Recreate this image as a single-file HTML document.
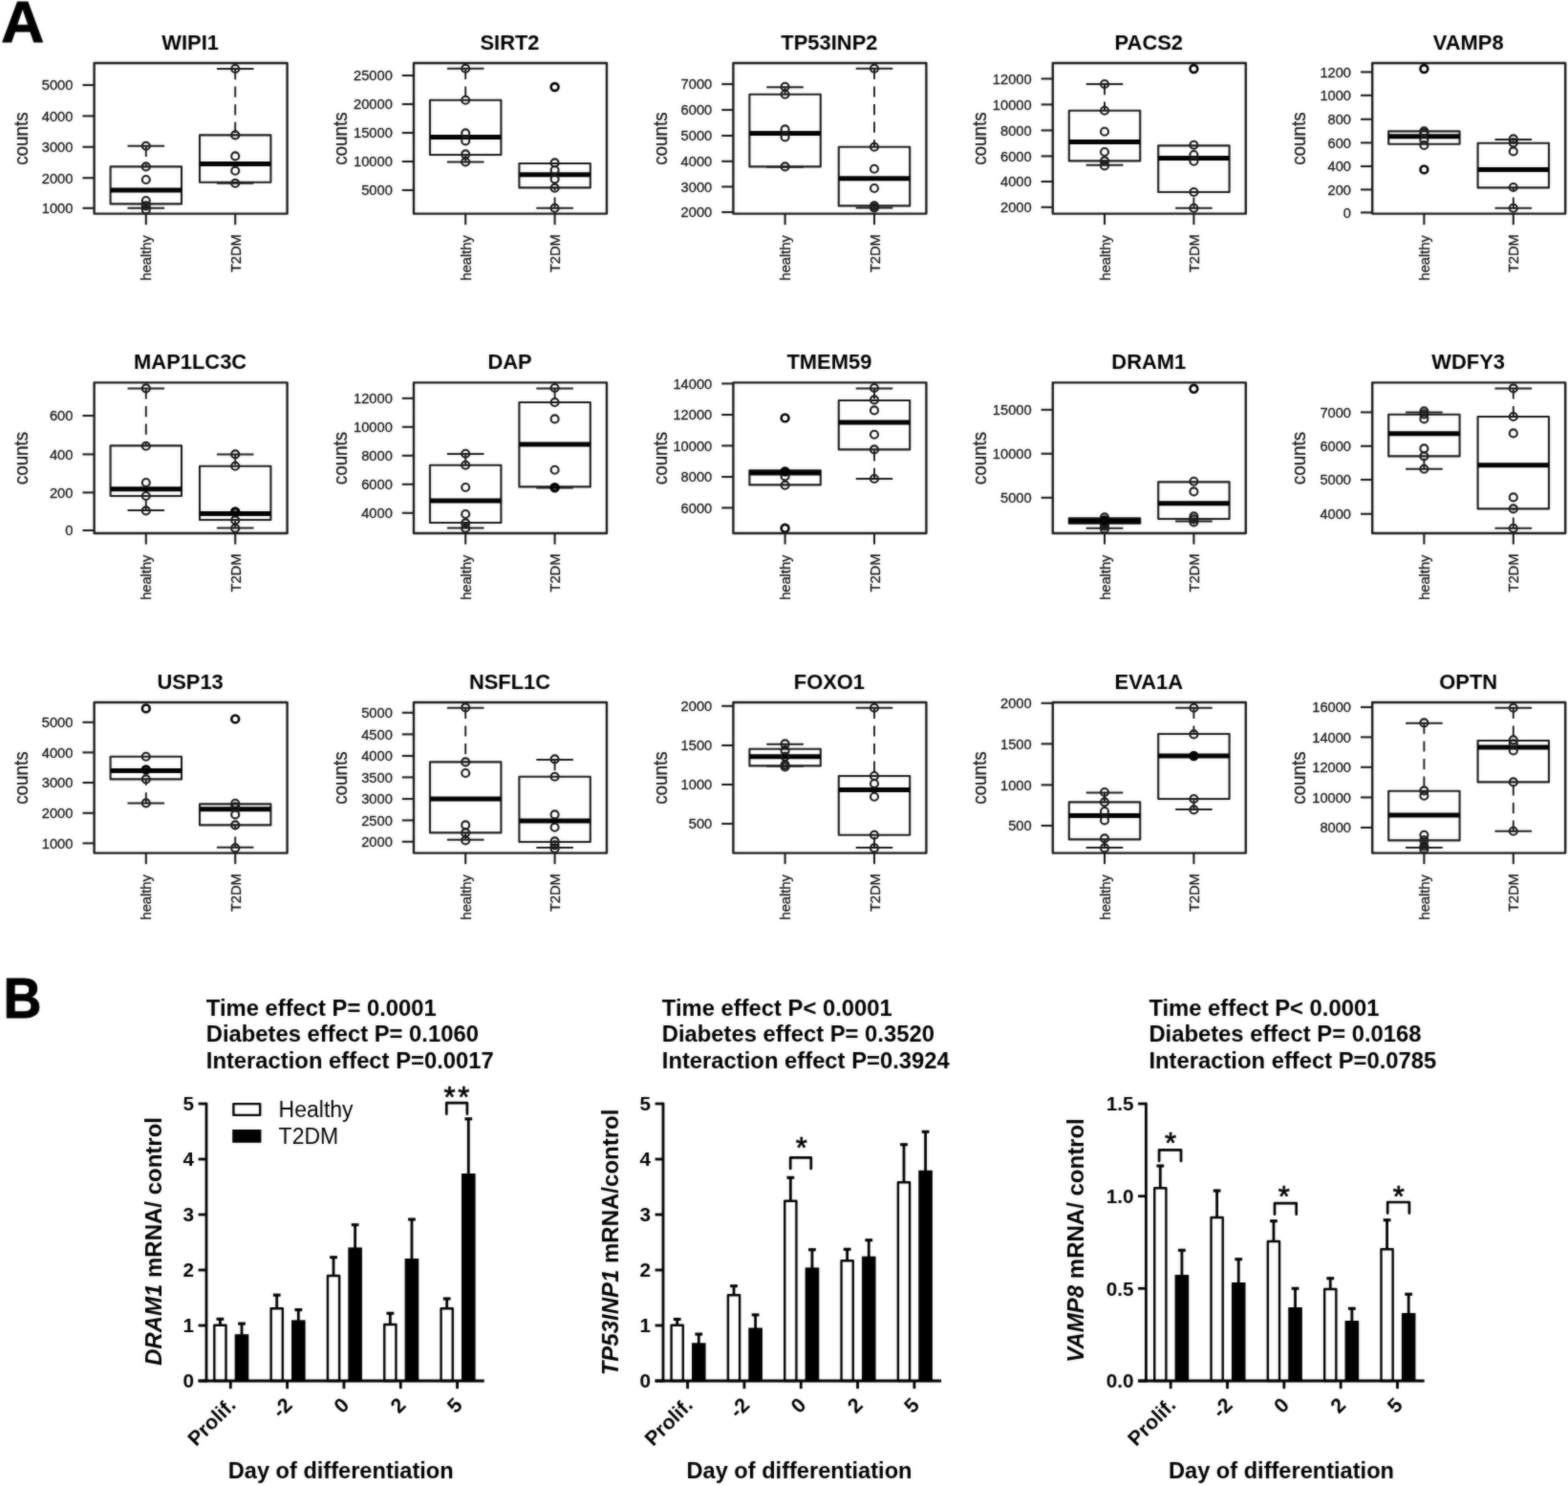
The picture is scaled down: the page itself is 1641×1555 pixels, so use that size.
<!DOCTYPE html>
<html lang="en">
<head>
<meta charset="utf-8">
<title>Figure: autophagy gene counts and mRNA expression</title>
<style>
html,body{margin:0;padding:0;background:#fff;}
body{width:1641px;height:1555px;overflow:hidden;}
svg{display:block;font-family:"Liberation Sans", Arial, Helvetica, sans-serif;fill:#000;}
.fr{fill:none;stroke:#1a1a1a;stroke-width:2.4;stroke-linejoin:round;}
.ax{stroke:#1a1a1a;stroke-width:2.1;}
.tk{fill:#151515;stroke:#151515;stroke-width:0.3;}
.lb{fill:#151515;stroke:#151515;stroke-width:0.3;}
.bx{fill:none;stroke:#1a1a1a;stroke-width:2.1;stroke-linejoin:round;}
.md{stroke:#000;stroke-width:5;}
.wh{stroke:#1a1a1a;stroke-width:1.9;stroke-dasharray:11.2 7.4;}
.st{stroke:#1a1a1a;stroke-width:2;}
.pt{fill:none;stroke:#1a1a1a;stroke-width:2.1;}
.ot{fill:none;stroke:#000;stroke-width:2.6;}
.dk{fill:#000;fill-opacity:0.5;stroke:#000;stroke-width:3;}
.ba{stroke:#000;stroke-width:2.8;}
.er{stroke:#000;stroke-width:2.8;}
.ec{stroke:#000;stroke-width:3.1;}
.bw{fill:#fff;stroke:#000;stroke-width:2.4;stroke-linejoin:round;}
.bb{fill:#000;stroke:none;}
.big{stroke:#000;stroke-width:1;stroke-linejoin:round;}
.star{stroke:#000;stroke-width:0.7;}
.sg{fill:none;stroke:#000;stroke-width:2.7;stroke-linecap:round;stroke-linejoin:round;}
</style>
</head>
<body>
<svg width="1641" height="1555" viewBox="0 0 1641 1555" role="img" aria-label="Box plots of autophagy gene counts (A) and bar charts of mRNA expression (B)">
<defs><filter id="soft" x="0" y="0" width="1641" height="1555" filterUnits="userSpaceOnUse" color-interpolation-filters="sRGB"><feGaussianBlur in="SourceGraphic" stdDeviation="0.8" result="b"/><feComposite in="SourceGraphic" in2="b" operator="arithmetic" k1="0" k2="0.5" k3="0.5" k4="0"/></filter></defs>
<g filter="url(#soft)">
<rect width="1641" height="1555" fill="#fff"/>
<text transform="translate(1.3 43.7) scale(1.03 1)" font-size="60.4" font-weight="bold" class="big">A</text>
<text transform="translate(3.6 1065.0) scale(0.942 1)" font-size="58.7" font-weight="bold" class="big">B</text>
<g>
<text transform="translate(199.1 52) scale(0.97 1)" font-size="22.6" font-weight="bold" text-anchor="middle">WIPI1</text>
<text transform="translate(28.7 145.1) rotate(-90) scale(0.975 1)" font-size="19.3" text-anchor="middle" class="lb">counts</text>
<line x1="86.4" y1="89" x2="98.6" y2="89" class="ax"/>
<text transform="translate(76.4 94.35) scale(0.965 1)" font-size="15.2" text-anchor="end" class="tk">5000</text>
<line x1="86.4" y1="121.4" x2="98.6" y2="121.4" class="ax"/>
<text transform="translate(76.4 126.75) scale(0.965 1)" font-size="15.2" text-anchor="end" class="tk">4000</text>
<line x1="86.4" y1="153.8" x2="98.6" y2="153.8" class="ax"/>
<text transform="translate(76.4 159.15) scale(0.965 1)" font-size="15.2" text-anchor="end" class="tk">3000</text>
<line x1="86.4" y1="186.2" x2="98.6" y2="186.2" class="ax"/>
<text transform="translate(76.4 191.55) scale(0.965 1)" font-size="15.2" text-anchor="end" class="tk">2000</text>
<line x1="86.4" y1="217.8" x2="98.6" y2="217.8" class="ax"/>
<text transform="translate(76.4 223.15) scale(0.965 1)" font-size="15.2" text-anchor="end" class="tk">1000</text>
<line x1="152.8" y1="223.6" x2="152.8" y2="235.2" class="ax"/>
<text transform="translate(158.3 246.2) rotate(-90) scale(0.965 1)" font-size="15.2" text-anchor="end" class="tk">healthy</text>
<line x1="246.2" y1="223.6" x2="246.2" y2="235.2" class="ax"/>
<text transform="translate(251.7 245.2) rotate(-90) scale(0.965 1)" font-size="15.2" text-anchor="end" class="tk">T2DM</text>
<line x1="152.8" y1="152.8" x2="152.8" y2="174.4" class="wh"/>
<line x1="133.5" y1="152.8" x2="172.1" y2="152.8" class="st"/>
<line x1="152.8" y1="217.8" x2="152.8" y2="213.4" class="wh"/>
<line x1="133.5" y1="217.8" x2="172.1" y2="217.8" class="st"/>
<rect x="115.6" y="174.4" width="74.4" height="39" class="bx"/>
<line x1="115.6" y1="199" x2="190" y2="199" class="md"/>
<circle cx="152.8" cy="152.8" r="4" class="pt"/>
<circle cx="152.8" cy="174.4" r="4" class="pt"/>
<circle cx="152.8" cy="188" r="4" class="pt"/>
<circle cx="152.8" cy="210" r="4" class="pt"/>
<circle cx="152.8" cy="215.4" r="4" class="pt"/>
<circle cx="152.8" cy="219.4" r="4" class="pt"/>
<line x1="246.2" y1="72" x2="246.2" y2="141.4" class="wh"/>
<line x1="226.9" y1="72" x2="265.5" y2="72" class="st"/>
<line x1="226.9" y1="191.8" x2="265.5" y2="191.8" class="st"/>
<rect x="209" y="141.4" width="74.4" height="49.4" class="bx"/>
<line x1="209" y1="171.4" x2="283.4" y2="171.4" class="md"/>
<circle cx="246.2" cy="72" r="4" class="pt"/>
<circle cx="246.2" cy="141.4" r="4" class="pt"/>
<circle cx="246.2" cy="163.4" r="4" class="pt"/>
<circle cx="246.2" cy="178.8" r="4" class="pt"/>
<circle cx="246.2" cy="191.8" r="4" class="pt"/>
<rect x="98.6" y="66" width="202" height="157.6" class="fr"/>
</g>
<g>
<text transform="translate(533.5 52) scale(0.97 1)" font-size="22.6" font-weight="bold" text-anchor="middle">SIRT2</text>
<text transform="translate(363.1 145.1) rotate(-90) scale(0.975 1)" font-size="19.3" text-anchor="middle" class="lb">counts</text>
<line x1="420.8" y1="79" x2="433" y2="79" class="ax"/>
<text transform="translate(410.8 84.35) scale(0.965 1)" font-size="15.2" text-anchor="end" class="tk">25000</text>
<line x1="420.8" y1="109" x2="433" y2="109" class="ax"/>
<text transform="translate(410.8 114.35) scale(0.965 1)" font-size="15.2" text-anchor="end" class="tk">20000</text>
<line x1="420.8" y1="139" x2="433" y2="139" class="ax"/>
<text transform="translate(410.8 144.35) scale(0.965 1)" font-size="15.2" text-anchor="end" class="tk">15000</text>
<line x1="420.8" y1="169" x2="433" y2="169" class="ax"/>
<text transform="translate(410.8 174.35) scale(0.965 1)" font-size="15.2" text-anchor="end" class="tk">10000</text>
<line x1="420.8" y1="199" x2="433" y2="199" class="ax"/>
<text transform="translate(410.8 204.35) scale(0.965 1)" font-size="15.2" text-anchor="end" class="tk">5000</text>
<line x1="487.2" y1="223.6" x2="487.2" y2="235.2" class="ax"/>
<text transform="translate(492.7 246.2) rotate(-90) scale(0.965 1)" font-size="15.2" text-anchor="end" class="tk">healthy</text>
<line x1="580.6" y1="223.6" x2="580.6" y2="235.2" class="ax"/>
<text transform="translate(586.1 245.2) rotate(-90) scale(0.965 1)" font-size="15.2" text-anchor="end" class="tk">T2DM</text>
<line x1="487.2" y1="71.8" x2="487.2" y2="104.8" class="wh"/>
<line x1="467.9" y1="71.8" x2="506.5" y2="71.8" class="st"/>
<line x1="487.2" y1="169.4" x2="487.2" y2="162" class="wh"/>
<line x1="467.9" y1="169.4" x2="506.5" y2="169.4" class="st"/>
<rect x="450" y="104.8" width="74.4" height="57.2" class="bx"/>
<line x1="450" y1="143.4" x2="524.4" y2="143.4" class="md"/>
<circle cx="487.2" cy="71.8" r="4" class="pt"/>
<circle cx="487.2" cy="104.8" r="4" class="pt"/>
<circle cx="487.2" cy="139.4" r="4" class="pt"/>
<circle cx="487.2" cy="147.4" r="4" class="pt"/>
<circle cx="487.2" cy="161.4" r="4" class="pt"/>
<circle cx="487.2" cy="169.4" r="4" class="pt"/>
<line x1="580.6" y1="217.8" x2="580.6" y2="196.4" class="wh"/>
<line x1="561.3" y1="217.8" x2="599.9" y2="217.8" class="st"/>
<rect x="543.4" y="171" width="74.4" height="25.4" class="bx"/>
<line x1="543.4" y1="182.8" x2="617.8" y2="182.8" class="md"/>
<circle cx="580.6" cy="170.4" r="4" class="pt"/>
<circle cx="580.6" cy="178" r="4" class="pt"/>
<circle cx="580.6" cy="187.4" r="4" class="pt"/>
<circle cx="580.6" cy="196.8" r="4" class="pt"/>
<circle cx="580.6" cy="217.8" r="4" class="pt"/>
<circle cx="580.6" cy="91" r="3.9" class="ot"/>
<rect x="433" y="66" width="202" height="157.6" class="fr"/>
</g>
<g>
<text transform="translate(867.9 52) scale(0.97 1)" font-size="22.6" font-weight="bold" text-anchor="middle">TP53INP2</text>
<text transform="translate(697.5 145.1) rotate(-90) scale(0.975 1)" font-size="19.3" text-anchor="middle" class="lb">counts</text>
<line x1="755.2" y1="88" x2="767.4" y2="88" class="ax"/>
<text transform="translate(745.2 93.35) scale(0.965 1)" font-size="15.2" text-anchor="end" class="tk">7000</text>
<line x1="755.2" y1="115" x2="767.4" y2="115" class="ax"/>
<text transform="translate(745.2 120.35) scale(0.965 1)" font-size="15.2" text-anchor="end" class="tk">6000</text>
<line x1="755.2" y1="142" x2="767.4" y2="142" class="ax"/>
<text transform="translate(745.2 147.35) scale(0.965 1)" font-size="15.2" text-anchor="end" class="tk">5000</text>
<line x1="755.2" y1="168.8" x2="767.4" y2="168.8" class="ax"/>
<text transform="translate(745.2 174.15) scale(0.965 1)" font-size="15.2" text-anchor="end" class="tk">4000</text>
<line x1="755.2" y1="195.4" x2="767.4" y2="195.4" class="ax"/>
<text transform="translate(745.2 200.75) scale(0.965 1)" font-size="15.2" text-anchor="end" class="tk">3000</text>
<line x1="755.2" y1="222" x2="767.4" y2="222" class="ax"/>
<text transform="translate(745.2 227.35) scale(0.965 1)" font-size="15.2" text-anchor="end" class="tk">2000</text>
<line x1="821.6" y1="223.6" x2="821.6" y2="235.2" class="ax"/>
<text transform="translate(827.1 246.2) rotate(-90) scale(0.965 1)" font-size="15.2" text-anchor="end" class="tk">healthy</text>
<line x1="915" y1="223.6" x2="915" y2="235.2" class="ax"/>
<text transform="translate(920.5 245.2) rotate(-90) scale(0.965 1)" font-size="15.2" text-anchor="end" class="tk">T2DM</text>
<line x1="821.6" y1="91.2" x2="821.6" y2="98.8" class="wh"/>
<line x1="802.3" y1="91.2" x2="840.9" y2="91.2" class="st"/>
<line x1="802.3" y1="174.8" x2="840.9" y2="174.8" class="st"/>
<rect x="784.4" y="98.8" width="74.4" height="75.6" class="bx"/>
<line x1="784.4" y1="139.4" x2="858.8" y2="139.4" class="md"/>
<circle cx="821.6" cy="90.8" r="4" class="pt"/>
<circle cx="821.6" cy="98.8" r="4" class="pt"/>
<circle cx="821.6" cy="135.4" r="4" class="pt"/>
<circle cx="821.6" cy="143.4" r="4" class="pt"/>
<circle cx="821.6" cy="174.4" r="4" class="pt"/>
<line x1="915" y1="71.8" x2="915" y2="153.8" class="wh"/>
<line x1="895.7" y1="71.8" x2="934.3" y2="71.8" class="st"/>
<line x1="915" y1="217.4" x2="915" y2="215.4" class="wh"/>
<line x1="895.7" y1="217.4" x2="934.3" y2="217.4" class="st"/>
<rect x="877.8" y="153.8" width="74.4" height="61.6" class="bx"/>
<line x1="877.8" y1="186.8" x2="952.2" y2="186.8" class="md"/>
<circle cx="915" cy="71.8" r="4" class="pt"/>
<circle cx="915" cy="153.8" r="4" class="pt"/>
<circle cx="915" cy="176.8" r="4" class="pt"/>
<circle cx="915" cy="197" r="4" class="pt"/>
<circle cx="915" cy="215.4" r="4" class="pt"/>
<circle cx="915" cy="217.4" r="4" class="pt"/>
<rect x="767.4" y="66" width="202" height="157.6" class="fr"/>
</g>
<g>
<text transform="translate(1202.3 52) scale(0.97 1)" font-size="22.6" font-weight="bold" text-anchor="middle">PACS2</text>
<text transform="translate(1031.9 145.1) rotate(-90) scale(0.975 1)" font-size="19.3" text-anchor="middle" class="lb">counts</text>
<line x1="1089.6" y1="82.4" x2="1101.8" y2="82.4" class="ax"/>
<text transform="translate(1079.6 87.75) scale(0.965 1)" font-size="15.2" text-anchor="end" class="tk">12000</text>
<line x1="1089.6" y1="109.4" x2="1101.8" y2="109.4" class="ax"/>
<text transform="translate(1079.6 114.75) scale(0.965 1)" font-size="15.2" text-anchor="end" class="tk">10000</text>
<line x1="1089.6" y1="136.4" x2="1101.8" y2="136.4" class="ax"/>
<text transform="translate(1079.6 141.75) scale(0.965 1)" font-size="15.2" text-anchor="end" class="tk">8000</text>
<line x1="1089.6" y1="163.4" x2="1101.8" y2="163.4" class="ax"/>
<text transform="translate(1079.6 168.75) scale(0.965 1)" font-size="15.2" text-anchor="end" class="tk">6000</text>
<line x1="1089.6" y1="190" x2="1101.8" y2="190" class="ax"/>
<text transform="translate(1079.6 195.35) scale(0.965 1)" font-size="15.2" text-anchor="end" class="tk">4000</text>
<line x1="1089.6" y1="216.8" x2="1101.8" y2="216.8" class="ax"/>
<text transform="translate(1079.6 222.15) scale(0.965 1)" font-size="15.2" text-anchor="end" class="tk">2000</text>
<line x1="1156" y1="223.6" x2="1156" y2="235.2" class="ax"/>
<text transform="translate(1161.5 246.2) rotate(-90) scale(0.965 1)" font-size="15.2" text-anchor="end" class="tk">healthy</text>
<line x1="1249.4" y1="223.6" x2="1249.4" y2="235.2" class="ax"/>
<text transform="translate(1254.9 245.2) rotate(-90) scale(0.965 1)" font-size="15.2" text-anchor="end" class="tk">T2DM</text>
<line x1="1156" y1="88" x2="1156" y2="115.8" class="wh"/>
<line x1="1136.7" y1="88" x2="1175.3" y2="88" class="st"/>
<line x1="1156" y1="172.8" x2="1156" y2="168.4" class="wh"/>
<line x1="1136.7" y1="172.8" x2="1175.3" y2="172.8" class="st"/>
<rect x="1118.8" y="115.8" width="74.4" height="52.6" class="bx"/>
<line x1="1118.8" y1="148.4" x2="1193.2" y2="148.4" class="md"/>
<circle cx="1156" cy="88" r="4" class="pt"/>
<circle cx="1156" cy="115.8" r="4" class="pt"/>
<circle cx="1156" cy="137.8" r="4" class="pt"/>
<circle cx="1156" cy="159" r="4" class="pt"/>
<circle cx="1156" cy="168.4" r="4" class="pt"/>
<circle cx="1156" cy="173.4" r="4" class="pt"/>
<line x1="1249.4" y1="217.8" x2="1249.4" y2="201" class="wh"/>
<line x1="1230.1" y1="217.8" x2="1268.7" y2="217.8" class="st"/>
<rect x="1212.2" y="152.4" width="74.4" height="48.6" class="bx"/>
<line x1="1212.2" y1="165.4" x2="1286.6" y2="165.4" class="md"/>
<circle cx="1249.4" cy="151.8" r="4" class="pt"/>
<circle cx="1249.4" cy="162" r="4" class="pt"/>
<circle cx="1249.4" cy="168.8" r="4" class="pt"/>
<circle cx="1249.4" cy="201" r="4" class="pt"/>
<circle cx="1249.4" cy="217.8" r="4" class="pt"/>
<circle cx="1249.4" cy="72" r="3.9" class="ot"/>
<rect x="1101.8" y="66" width="202" height="157.6" class="fr"/>
</g>
<g>
<text transform="translate(1536.7 52) scale(0.97 1)" font-size="22.6" font-weight="bold" text-anchor="middle">VAMP8</text>
<text transform="translate(1366.3 145.1) rotate(-90) scale(0.975 1)" font-size="19.3" text-anchor="middle" class="lb">counts</text>
<line x1="1424" y1="75.4" x2="1436.2" y2="75.4" class="ax"/>
<text transform="translate(1414 80.75) scale(0.965 1)" font-size="15.2" text-anchor="end" class="tk">1200</text>
<line x1="1424" y1="99.8" x2="1436.2" y2="99.8" class="ax"/>
<text transform="translate(1414 105.15) scale(0.965 1)" font-size="15.2" text-anchor="end" class="tk">1000</text>
<line x1="1424" y1="124.8" x2="1436.2" y2="124.8" class="ax"/>
<text transform="translate(1414 130.15) scale(0.965 1)" font-size="15.2" text-anchor="end" class="tk">800</text>
<line x1="1424" y1="149.4" x2="1436.2" y2="149.4" class="ax"/>
<text transform="translate(1414 154.75) scale(0.965 1)" font-size="15.2" text-anchor="end" class="tk">600</text>
<line x1="1424" y1="174" x2="1436.2" y2="174" class="ax"/>
<text transform="translate(1414 179.35) scale(0.965 1)" font-size="15.2" text-anchor="end" class="tk">400</text>
<line x1="1424" y1="198.4" x2="1436.2" y2="198.4" class="ax"/>
<text transform="translate(1414 203.75) scale(0.965 1)" font-size="15.2" text-anchor="end" class="tk">200</text>
<line x1="1424" y1="222.4" x2="1436.2" y2="222.4" class="ax"/>
<text transform="translate(1414 227.75) scale(0.965 1)" font-size="15.2" text-anchor="end" class="tk">0</text>
<line x1="1490.4" y1="223.6" x2="1490.4" y2="235.2" class="ax"/>
<text transform="translate(1495.9 246.2) rotate(-90) scale(0.965 1)" font-size="15.2" text-anchor="end" class="tk">healthy</text>
<line x1="1583.8" y1="223.6" x2="1583.8" y2="235.2" class="ax"/>
<text transform="translate(1589.3 245.2) rotate(-90) scale(0.965 1)" font-size="15.2" text-anchor="end" class="tk">T2DM</text>
<rect x="1453.2" y="137.4" width="74.4" height="13.4" class="bx"/>
<line x1="1453.2" y1="142.8" x2="1527.6" y2="142.8" class="md"/>
<circle cx="1490.4" cy="137.4" r="4" class="pt"/>
<circle cx="1490.4" cy="139.4" r="4" class="pt"/>
<circle cx="1490.4" cy="146.4" r="4" class="pt"/>
<circle cx="1490.4" cy="152" r="4" class="pt"/>
<circle cx="1490.4" cy="72" r="3.9" class="ot"/>
<circle cx="1490.4" cy="177.4" r="3.9" class="ot"/>
<line x1="1583.8" y1="146" x2="1583.8" y2="149.8" class="wh"/>
<line x1="1564.5" y1="146" x2="1603.1" y2="146" class="st"/>
<line x1="1583.8" y1="217.8" x2="1583.8" y2="196.4" class="wh"/>
<line x1="1564.5" y1="217.8" x2="1603.1" y2="217.8" class="st"/>
<rect x="1546.6" y="149.8" width="74.4" height="46.6" class="bx"/>
<line x1="1546.6" y1="177.4" x2="1621" y2="177.4" class="md"/>
<circle cx="1583.8" cy="145.4" r="4" class="pt"/>
<circle cx="1583.8" cy="149.4" r="4" class="pt"/>
<circle cx="1583.8" cy="158.4" r="4" class="pt"/>
<circle cx="1583.8" cy="196" r="4" class="pt"/>
<circle cx="1583.8" cy="217.8" r="4" class="pt"/>
<rect x="1436.2" y="66" width="202" height="157.6" class="fr"/>
</g>
<g>
<text transform="translate(199.1 386.4) scale(0.97 1)" font-size="22.6" font-weight="bold" text-anchor="middle">MAP1LC3C</text>
<text transform="translate(28.7 479.5) rotate(-90) scale(0.975 1)" font-size="19.3" text-anchor="middle" class="lb">counts</text>
<line x1="86.4" y1="435" x2="98.6" y2="435" class="ax"/>
<text transform="translate(76.4 440.35) scale(0.965 1)" font-size="15.2" text-anchor="end" class="tk">600</text>
<line x1="86.4" y1="475.4" x2="98.6" y2="475.4" class="ax"/>
<text transform="translate(76.4 480.75) scale(0.965 1)" font-size="15.2" text-anchor="end" class="tk">400</text>
<line x1="86.4" y1="515.4" x2="98.6" y2="515.4" class="ax"/>
<text transform="translate(76.4 520.75) scale(0.965 1)" font-size="15.2" text-anchor="end" class="tk">200</text>
<line x1="86.4" y1="555" x2="98.6" y2="555" class="ax"/>
<text transform="translate(76.4 560.35) scale(0.965 1)" font-size="15.2" text-anchor="end" class="tk">0</text>
<line x1="152.8" y1="558" x2="152.8" y2="569.6" class="ax"/>
<text transform="translate(158.3 580.6) rotate(-90) scale(0.965 1)" font-size="15.2" text-anchor="end" class="tk">healthy</text>
<line x1="246.2" y1="558" x2="246.2" y2="569.6" class="ax"/>
<text transform="translate(251.7 579.6) rotate(-90) scale(0.965 1)" font-size="15.2" text-anchor="end" class="tk">T2DM</text>
<line x1="152.8" y1="406.4" x2="152.8" y2="466.4" class="wh"/>
<line x1="133.5" y1="406.4" x2="172.1" y2="406.4" class="st"/>
<line x1="152.8" y1="534" x2="152.8" y2="519" class="wh"/>
<line x1="133.5" y1="534" x2="172.1" y2="534" class="st"/>
<rect x="115.6" y="466.4" width="74.4" height="52.6" class="bx"/>
<line x1="115.6" y1="511.8" x2="190" y2="511.8" class="md"/>
<circle cx="152.8" cy="406.4" r="4" class="pt"/>
<circle cx="152.8" cy="466.8" r="4" class="pt"/>
<circle cx="152.8" cy="505" r="4" class="pt"/>
<circle cx="152.8" cy="519" r="4" class="pt"/>
<circle cx="152.8" cy="534.4" r="4" class="pt"/>
<line x1="246.2" y1="475.4" x2="246.2" y2="487.8" class="wh"/>
<line x1="226.9" y1="475.4" x2="265.5" y2="475.4" class="st"/>
<line x1="246.2" y1="552.4" x2="246.2" y2="544" class="wh"/>
<line x1="226.9" y1="552.4" x2="265.5" y2="552.4" class="st"/>
<rect x="209" y="487.8" width="74.4" height="56.2" class="bx"/>
<line x1="209" y1="537.4" x2="283.4" y2="537.4" class="md"/>
<circle cx="246.2" cy="475.4" r="4" class="pt"/>
<circle cx="246.2" cy="487.8" r="4" class="pt"/>
<circle cx="246.2" cy="544.4" r="4" class="pt"/>
<circle cx="246.2" cy="552.8" r="4" class="pt"/>
<circle cx="246.2" cy="535.4" r="3.7" class="dk"/>
<rect x="98.6" y="400.4" width="202" height="157.6" class="fr"/>
</g>
<g>
<text transform="translate(533.5 386.4) scale(0.97 1)" font-size="22.6" font-weight="bold" text-anchor="middle">DAP</text>
<text transform="translate(363.1 479.5) rotate(-90) scale(0.975 1)" font-size="19.3" text-anchor="middle" class="lb">counts</text>
<line x1="420.8" y1="416.8" x2="433" y2="416.8" class="ax"/>
<text transform="translate(410.8 422.15) scale(0.965 1)" font-size="15.2" text-anchor="end" class="tk">12000</text>
<line x1="420.8" y1="446.8" x2="433" y2="446.8" class="ax"/>
<text transform="translate(410.8 452.15) scale(0.965 1)" font-size="15.2" text-anchor="end" class="tk">10000</text>
<line x1="420.8" y1="476.8" x2="433" y2="476.8" class="ax"/>
<text transform="translate(410.8 482.15) scale(0.965 1)" font-size="15.2" text-anchor="end" class="tk">8000</text>
<line x1="420.8" y1="506.8" x2="433" y2="506.8" class="ax"/>
<text transform="translate(410.8 512.15) scale(0.965 1)" font-size="15.2" text-anchor="end" class="tk">6000</text>
<line x1="420.8" y1="536.8" x2="433" y2="536.8" class="ax"/>
<text transform="translate(410.8 542.15) scale(0.965 1)" font-size="15.2" text-anchor="end" class="tk">4000</text>
<line x1="487.2" y1="558" x2="487.2" y2="569.6" class="ax"/>
<text transform="translate(492.7 580.6) rotate(-90) scale(0.965 1)" font-size="15.2" text-anchor="end" class="tk">healthy</text>
<line x1="580.6" y1="558" x2="580.6" y2="569.6" class="ax"/>
<text transform="translate(586.1 579.6) rotate(-90) scale(0.965 1)" font-size="15.2" text-anchor="end" class="tk">T2DM</text>
<line x1="487.2" y1="475" x2="487.2" y2="486.8" class="wh"/>
<line x1="467.9" y1="475" x2="506.5" y2="475" class="st"/>
<line x1="487.2" y1="552.4" x2="487.2" y2="547" class="wh"/>
<line x1="467.9" y1="552.4" x2="506.5" y2="552.4" class="st"/>
<rect x="450" y="486.8" width="74.4" height="60.2" class="bx"/>
<line x1="450" y1="524" x2="524.4" y2="524" class="md"/>
<circle cx="487.2" cy="474.8" r="4" class="pt"/>
<circle cx="487.2" cy="486.8" r="4" class="pt"/>
<circle cx="487.2" cy="510" r="4" class="pt"/>
<circle cx="487.2" cy="538" r="4" class="pt"/>
<circle cx="487.2" cy="547.4" r="4" class="pt"/>
<circle cx="487.2" cy="552.8" r="4" class="pt"/>
<line x1="580.6" y1="406.4" x2="580.6" y2="421" class="wh"/>
<line x1="561.3" y1="406.4" x2="599.9" y2="406.4" class="st"/>
<line x1="561.3" y1="510.4" x2="599.9" y2="510.4" class="st"/>
<rect x="543.4" y="421" width="74.4" height="88.4" class="bx"/>
<line x1="543.4" y1="465" x2="617.8" y2="465" class="md"/>
<circle cx="580.6" cy="406" r="4" class="pt"/>
<circle cx="580.6" cy="421" r="4" class="pt"/>
<circle cx="580.6" cy="438.4" r="4" class="pt"/>
<circle cx="580.6" cy="491.8" r="4" class="pt"/>
<circle cx="580.6" cy="510.2" r="3.7" class="dk"/>
<rect x="433" y="400.4" width="202" height="157.6" class="fr"/>
</g>
<g>
<text transform="translate(867.9 386.4) scale(0.97 1)" font-size="22.6" font-weight="bold" text-anchor="middle">TMEM59</text>
<text transform="translate(697.5 479.5) rotate(-90) scale(0.975 1)" font-size="19.3" text-anchor="middle" class="lb">counts</text>
<line x1="755.2" y1="401.4" x2="767.4" y2="401.4" class="ax"/>
<text transform="translate(745.2 406.75) scale(0.965 1)" font-size="15.2" text-anchor="end" class="tk">14000</text>
<line x1="755.2" y1="434" x2="767.4" y2="434" class="ax"/>
<text transform="translate(745.2 439.35) scale(0.965 1)" font-size="15.2" text-anchor="end" class="tk">12000</text>
<line x1="755.2" y1="466.4" x2="767.4" y2="466.4" class="ax"/>
<text transform="translate(745.2 471.75) scale(0.965 1)" font-size="15.2" text-anchor="end" class="tk">10000</text>
<line x1="755.2" y1="499" x2="767.4" y2="499" class="ax"/>
<text transform="translate(745.2 504.35) scale(0.965 1)" font-size="15.2" text-anchor="end" class="tk">8000</text>
<line x1="755.2" y1="531.4" x2="767.4" y2="531.4" class="ax"/>
<text transform="translate(745.2 536.75) scale(0.965 1)" font-size="15.2" text-anchor="end" class="tk">6000</text>
<line x1="821.6" y1="558" x2="821.6" y2="569.6" class="ax"/>
<text transform="translate(827.1 580.6) rotate(-90) scale(0.965 1)" font-size="15.2" text-anchor="end" class="tk">healthy</text>
<line x1="915" y1="558" x2="915" y2="569.6" class="ax"/>
<text transform="translate(920.5 579.6) rotate(-90) scale(0.965 1)" font-size="15.2" text-anchor="end" class="tk">T2DM</text>
<rect x="784.4" y="492.4" width="74.4" height="15" class="bx"/>
<line x1="784.4" y1="495" x2="858.8" y2="495" class="md"/>
<circle cx="821.6" cy="498.4" r="4" class="pt"/>
<circle cx="821.6" cy="507.8" r="4" class="pt"/>
<circle cx="821.6" cy="437.4" r="3.9" class="ot"/>
<circle cx="821.6" cy="552.8" r="3.9" class="ot"/>
<circle cx="821.6" cy="493.4" r="3.7" class="dk"/>
<line x1="915" y1="406.4" x2="915" y2="419" class="wh"/>
<line x1="895.7" y1="406.4" x2="934.3" y2="406.4" class="st"/>
<line x1="915" y1="501" x2="915" y2="470.4" class="wh"/>
<line x1="895.7" y1="501" x2="934.3" y2="501" class="st"/>
<rect x="877.8" y="419" width="74.4" height="51.4" class="bx"/>
<line x1="877.8" y1="442" x2="952.2" y2="442" class="md"/>
<circle cx="915" cy="406" r="4" class="pt"/>
<circle cx="915" cy="418.4" r="4" class="pt"/>
<circle cx="915" cy="429.4" r="4" class="pt"/>
<circle cx="915" cy="454.8" r="4" class="pt"/>
<circle cx="915" cy="470.4" r="4" class="pt"/>
<circle cx="915" cy="501" r="4" class="pt"/>
<rect x="767.4" y="400.4" width="202" height="157.6" class="fr"/>
</g>
<g>
<text transform="translate(1202.3 386.4) scale(0.97 1)" font-size="22.6" font-weight="bold" text-anchor="middle">DRAM1</text>
<text transform="translate(1031.9 479.5) rotate(-90) scale(0.975 1)" font-size="19.3" text-anchor="middle" class="lb">counts</text>
<line x1="1089.6" y1="428.8" x2="1101.8" y2="428.8" class="ax"/>
<text transform="translate(1079.6 434.15) scale(0.965 1)" font-size="15.2" text-anchor="end" class="tk">15000</text>
<line x1="1089.6" y1="474.8" x2="1101.8" y2="474.8" class="ax"/>
<text transform="translate(1079.6 480.15) scale(0.965 1)" font-size="15.2" text-anchor="end" class="tk">10000</text>
<line x1="1089.6" y1="520.8" x2="1101.8" y2="520.8" class="ax"/>
<text transform="translate(1079.6 526.15) scale(0.965 1)" font-size="15.2" text-anchor="end" class="tk">5000</text>
<line x1="1156" y1="558" x2="1156" y2="569.6" class="ax"/>
<text transform="translate(1161.5 580.6) rotate(-90) scale(0.965 1)" font-size="15.2" text-anchor="end" class="tk">healthy</text>
<line x1="1249.4" y1="558" x2="1249.4" y2="569.6" class="ax"/>
<text transform="translate(1254.9 579.6) rotate(-90) scale(0.965 1)" font-size="15.2" text-anchor="end" class="tk">T2DM</text>
<line x1="1156" y1="552.8" x2="1156" y2="547.8" class="wh"/>
<line x1="1136.7" y1="552.8" x2="1175.3" y2="552.8" class="st"/>
<rect x="1118.8" y="542.4" width="74.4" height="5.4" class="bx"/>
<line x1="1118.8" y1="545" x2="1193.2" y2="545" class="md"/>
<circle cx="1156" cy="541.4" r="4" class="pt"/>
<circle cx="1156" cy="547.4" r="4" class="pt"/>
<circle cx="1156" cy="550.4" r="4" class="pt"/>
<circle cx="1156" cy="553.4" r="4" class="pt"/>
<circle cx="1156" cy="544.4" r="3.7" class="dk"/>
<line x1="1249.4" y1="545.4" x2="1249.4" y2="543" class="wh"/>
<line x1="1230.1" y1="545.4" x2="1268.7" y2="545.4" class="st"/>
<rect x="1212.2" y="504.4" width="74.4" height="38.6" class="bx"/>
<line x1="1212.2" y1="526.8" x2="1286.6" y2="526.8" class="md"/>
<circle cx="1249.4" cy="503.8" r="4" class="pt"/>
<circle cx="1249.4" cy="514.4" r="4" class="pt"/>
<circle cx="1249.4" cy="540.4" r="4" class="pt"/>
<circle cx="1249.4" cy="543.4" r="4" class="pt"/>
<circle cx="1249.4" cy="546.4" r="4" class="pt"/>
<circle cx="1249.4" cy="406.8" r="3.9" class="ot"/>
<rect x="1101.8" y="400.4" width="202" height="157.6" class="fr"/>
</g>
<g>
<text transform="translate(1536.7 386.4) scale(0.97 1)" font-size="22.6" font-weight="bold" text-anchor="middle">WDFY3</text>
<text transform="translate(1366.3 479.5) rotate(-90) scale(0.975 1)" font-size="19.3" text-anchor="middle" class="lb">counts</text>
<line x1="1424" y1="431.4" x2="1436.2" y2="431.4" class="ax"/>
<text transform="translate(1414 436.75) scale(0.965 1)" font-size="15.2" text-anchor="end" class="tk">7000</text>
<line x1="1424" y1="466.8" x2="1436.2" y2="466.8" class="ax"/>
<text transform="translate(1414 472.15) scale(0.965 1)" font-size="15.2" text-anchor="end" class="tk">6000</text>
<line x1="1424" y1="502" x2="1436.2" y2="502" class="ax"/>
<text transform="translate(1414 507.35) scale(0.965 1)" font-size="15.2" text-anchor="end" class="tk">5000</text>
<line x1="1424" y1="537.8" x2="1436.2" y2="537.8" class="ax"/>
<text transform="translate(1414 543.15) scale(0.965 1)" font-size="15.2" text-anchor="end" class="tk">4000</text>
<line x1="1490.4" y1="558" x2="1490.4" y2="569.6" class="ax"/>
<text transform="translate(1495.9 580.6) rotate(-90) scale(0.965 1)" font-size="15.2" text-anchor="end" class="tk">healthy</text>
<line x1="1583.8" y1="558" x2="1583.8" y2="569.6" class="ax"/>
<text transform="translate(1589.3 579.6) rotate(-90) scale(0.965 1)" font-size="15.2" text-anchor="end" class="tk">T2DM</text>
<line x1="1490.4" y1="431.4" x2="1490.4" y2="433.8" class="wh"/>
<line x1="1471.1" y1="431.4" x2="1509.7" y2="431.4" class="st"/>
<line x1="1490.4" y1="490.8" x2="1490.4" y2="477.4" class="wh"/>
<line x1="1471.1" y1="490.8" x2="1509.7" y2="490.8" class="st"/>
<rect x="1453.2" y="433.8" width="74.4" height="43.6" class="bx"/>
<line x1="1453.2" y1="453.8" x2="1527.6" y2="453.8" class="md"/>
<circle cx="1490.4" cy="430.4" r="4" class="pt"/>
<circle cx="1490.4" cy="433.4" r="4" class="pt"/>
<circle cx="1490.4" cy="438.4" r="4" class="pt"/>
<circle cx="1490.4" cy="469.4" r="4" class="pt"/>
<circle cx="1490.4" cy="477.4" r="4" class="pt"/>
<circle cx="1490.4" cy="490.8" r="4" class="pt"/>
<line x1="1583.8" y1="406.4" x2="1583.8" y2="436" class="wh"/>
<line x1="1564.5" y1="406.4" x2="1603.1" y2="406.4" class="st"/>
<line x1="1583.8" y1="552.8" x2="1583.8" y2="532.4" class="wh"/>
<line x1="1564.5" y1="552.8" x2="1603.1" y2="552.8" class="st"/>
<rect x="1546.6" y="436" width="74.4" height="96.4" class="bx"/>
<line x1="1546.6" y1="486.8" x2="1621" y2="486.8" class="md"/>
<circle cx="1583.8" cy="406.4" r="4" class="pt"/>
<circle cx="1583.8" cy="436" r="4" class="pt"/>
<circle cx="1583.8" cy="453.4" r="4" class="pt"/>
<circle cx="1583.8" cy="520.4" r="4" class="pt"/>
<circle cx="1583.8" cy="532.4" r="4" class="pt"/>
<circle cx="1583.8" cy="552.8" r="4" class="pt"/>
<rect x="1436.2" y="400.4" width="202" height="157.6" class="fr"/>
</g>
<g>
<text transform="translate(199.1 721) scale(0.97 1)" font-size="22.6" font-weight="bold" text-anchor="middle">USP13</text>
<text transform="translate(28.7 814.1) rotate(-90) scale(0.975 1)" font-size="19.3" text-anchor="middle" class="lb">counts</text>
<line x1="86.4" y1="755.8" x2="98.6" y2="755.8" class="ax"/>
<text transform="translate(76.4 761.15) scale(0.965 1)" font-size="15.2" text-anchor="end" class="tk">5000</text>
<line x1="86.4" y1="787.4" x2="98.6" y2="787.4" class="ax"/>
<text transform="translate(76.4 792.75) scale(0.965 1)" font-size="15.2" text-anchor="end" class="tk">4000</text>
<line x1="86.4" y1="819" x2="98.6" y2="819" class="ax"/>
<text transform="translate(76.4 824.35) scale(0.965 1)" font-size="15.2" text-anchor="end" class="tk">3000</text>
<line x1="86.4" y1="850.8" x2="98.6" y2="850.8" class="ax"/>
<text transform="translate(76.4 856.15) scale(0.965 1)" font-size="15.2" text-anchor="end" class="tk">2000</text>
<line x1="86.4" y1="882.4" x2="98.6" y2="882.4" class="ax"/>
<text transform="translate(76.4 887.75) scale(0.965 1)" font-size="15.2" text-anchor="end" class="tk">1000</text>
<line x1="152.8" y1="892.6" x2="152.8" y2="904.2" class="ax"/>
<text transform="translate(158.3 915.2) rotate(-90) scale(0.965 1)" font-size="15.2" text-anchor="end" class="tk">healthy</text>
<line x1="246.2" y1="892.6" x2="246.2" y2="904.2" class="ax"/>
<text transform="translate(251.7 914.2) rotate(-90) scale(0.965 1)" font-size="15.2" text-anchor="end" class="tk">T2DM</text>
<line x1="152.8" y1="840.4" x2="152.8" y2="815.4" class="wh"/>
<line x1="133.5" y1="840.4" x2="172.1" y2="840.4" class="st"/>
<rect x="115.6" y="791.8" width="74.4" height="23.6" class="bx"/>
<line x1="115.6" y1="806.4" x2="190" y2="806.4" class="md"/>
<circle cx="152.8" cy="791.8" r="4" class="pt"/>
<circle cx="152.8" cy="815.4" r="4" class="pt"/>
<circle cx="152.8" cy="840.4" r="4" class="pt"/>
<circle cx="152.8" cy="741.4" r="3.9" class="ot"/>
<circle cx="152.8" cy="805.4" r="3.7" class="dk"/>
<line x1="246.2" y1="886.8" x2="246.2" y2="863.4" class="wh"/>
<line x1="226.9" y1="886.8" x2="265.5" y2="886.8" class="st"/>
<rect x="209" y="841.4" width="74.4" height="22" class="bx"/>
<line x1="209" y1="846.8" x2="283.4" y2="846.8" class="md"/>
<circle cx="246.2" cy="840.8" r="4" class="pt"/>
<circle cx="246.2" cy="844.4" r="4" class="pt"/>
<circle cx="246.2" cy="852.4" r="4" class="pt"/>
<circle cx="246.2" cy="863.4" r="4" class="pt"/>
<circle cx="246.2" cy="887.4" r="4" class="pt"/>
<circle cx="246.2" cy="752.4" r="3.9" class="ot"/>
<rect x="98.6" y="735" width="202" height="157.6" class="fr"/>
</g>
<g>
<text transform="translate(533.5 721) scale(0.97 1)" font-size="22.6" font-weight="bold" text-anchor="middle">NSFL1C</text>
<text transform="translate(363.1 814.1) rotate(-90) scale(0.975 1)" font-size="19.3" text-anchor="middle" class="lb">counts</text>
<line x1="420.8" y1="745.8" x2="433" y2="745.8" class="ax"/>
<text transform="translate(410.8 751.15) scale(0.965 1)" font-size="15.2" text-anchor="end" class="tk">5000</text>
<line x1="420.8" y1="768.4" x2="433" y2="768.4" class="ax"/>
<text transform="translate(410.8 773.75) scale(0.965 1)" font-size="15.2" text-anchor="end" class="tk">4500</text>
<line x1="420.8" y1="791" x2="433" y2="791" class="ax"/>
<text transform="translate(410.8 796.35) scale(0.965 1)" font-size="15.2" text-anchor="end" class="tk">4000</text>
<line x1="420.8" y1="813.4" x2="433" y2="813.4" class="ax"/>
<text transform="translate(410.8 818.75) scale(0.965 1)" font-size="15.2" text-anchor="end" class="tk">3500</text>
<line x1="420.8" y1="836" x2="433" y2="836" class="ax"/>
<text transform="translate(410.8 841.35) scale(0.965 1)" font-size="15.2" text-anchor="end" class="tk">3000</text>
<line x1="420.8" y1="858.4" x2="433" y2="858.4" class="ax"/>
<text transform="translate(410.8 863.75) scale(0.965 1)" font-size="15.2" text-anchor="end" class="tk">2500</text>
<line x1="420.8" y1="880.8" x2="433" y2="880.8" class="ax"/>
<text transform="translate(410.8 886.15) scale(0.965 1)" font-size="15.2" text-anchor="end" class="tk">2000</text>
<line x1="487.2" y1="892.6" x2="487.2" y2="904.2" class="ax"/>
<text transform="translate(492.7 915.2) rotate(-90) scale(0.965 1)" font-size="15.2" text-anchor="end" class="tk">healthy</text>
<line x1="580.6" y1="892.6" x2="580.6" y2="904.2" class="ax"/>
<text transform="translate(586.1 914.2) rotate(-90) scale(0.965 1)" font-size="15.2" text-anchor="end" class="tk">T2DM</text>
<line x1="487.2" y1="740.8" x2="487.2" y2="797.4" class="wh"/>
<line x1="467.9" y1="740.8" x2="506.5" y2="740.8" class="st"/>
<line x1="487.2" y1="878.8" x2="487.2" y2="871.4" class="wh"/>
<line x1="467.9" y1="878.8" x2="506.5" y2="878.8" class="st"/>
<rect x="450" y="797.4" width="74.4" height="74" class="bx"/>
<line x1="450" y1="836" x2="524.4" y2="836" class="md"/>
<circle cx="487.2" cy="740.4" r="4" class="pt"/>
<circle cx="487.2" cy="797.4" r="4" class="pt"/>
<circle cx="487.2" cy="809" r="4" class="pt"/>
<circle cx="487.2" cy="863.4" r="4" class="pt"/>
<circle cx="487.2" cy="871.4" r="4" class="pt"/>
<circle cx="487.2" cy="879.4" r="4" class="pt"/>
<line x1="580.6" y1="795" x2="580.6" y2="812.8" class="wh"/>
<line x1="561.3" y1="795" x2="599.9" y2="795" class="st"/>
<line x1="580.6" y1="887" x2="580.6" y2="881" class="wh"/>
<line x1="561.3" y1="887" x2="599.9" y2="887" class="st"/>
<rect x="543.4" y="812.8" width="74.4" height="68.2" class="bx"/>
<line x1="543.4" y1="859" x2="617.8" y2="859" class="md"/>
<circle cx="580.6" cy="794.4" r="4" class="pt"/>
<circle cx="580.6" cy="812.8" r="4" class="pt"/>
<circle cx="580.6" cy="852.4" r="4" class="pt"/>
<circle cx="580.6" cy="865.8" r="4" class="pt"/>
<circle cx="580.6" cy="880.4" r="4" class="pt"/>
<circle cx="580.6" cy="884.4" r="4" class="pt"/>
<circle cx="580.6" cy="888" r="4" class="pt"/>
<rect x="433" y="735" width="202" height="157.6" class="fr"/>
</g>
<g>
<text transform="translate(867.9 721) scale(0.97 1)" font-size="22.6" font-weight="bold" text-anchor="middle">FOXO1</text>
<text transform="translate(697.5 814.1) rotate(-90) scale(0.975 1)" font-size="19.3" text-anchor="middle" class="lb">counts</text>
<line x1="755.2" y1="738.8" x2="767.4" y2="738.8" class="ax"/>
<text transform="translate(745.2 744.15) scale(0.965 1)" font-size="15.2" text-anchor="end" class="tk">2000</text>
<line x1="755.2" y1="780" x2="767.4" y2="780" class="ax"/>
<text transform="translate(745.2 785.35) scale(0.965 1)" font-size="15.2" text-anchor="end" class="tk">1500</text>
<line x1="755.2" y1="821" x2="767.4" y2="821" class="ax"/>
<text transform="translate(745.2 826.35) scale(0.965 1)" font-size="15.2" text-anchor="end" class="tk">1000</text>
<line x1="755.2" y1="862" x2="767.4" y2="862" class="ax"/>
<text transform="translate(745.2 867.35) scale(0.965 1)" font-size="15.2" text-anchor="end" class="tk">500</text>
<line x1="821.6" y1="892.6" x2="821.6" y2="904.2" class="ax"/>
<text transform="translate(827.1 915.2) rotate(-90) scale(0.965 1)" font-size="15.2" text-anchor="end" class="tk">healthy</text>
<line x1="915" y1="892.6" x2="915" y2="904.2" class="ax"/>
<text transform="translate(920.5 914.2) rotate(-90) scale(0.965 1)" font-size="15.2" text-anchor="end" class="tk">T2DM</text>
<line x1="821.6" y1="778.8" x2="821.6" y2="783.8" class="wh"/>
<line x1="802.3" y1="778.8" x2="840.9" y2="778.8" class="st"/>
<line x1="802.3" y1="801.8" x2="840.9" y2="801.8" class="st"/>
<rect x="784.4" y="783.8" width="74.4" height="17.6" class="bx"/>
<line x1="784.4" y1="791.8" x2="858.8" y2="791.8" class="md"/>
<circle cx="821.6" cy="778.4" r="4" class="pt"/>
<circle cx="821.6" cy="785.4" r="4" class="pt"/>
<circle cx="821.6" cy="791.8" r="4" class="pt"/>
<circle cx="821.6" cy="800.4" r="4" class="pt"/>
<circle cx="821.6" cy="802.4" r="4" class="pt"/>
<line x1="915" y1="740.8" x2="915" y2="812" class="wh"/>
<line x1="895.7" y1="740.8" x2="934.3" y2="740.8" class="st"/>
<line x1="915" y1="887" x2="915" y2="873.8" class="wh"/>
<line x1="895.7" y1="887" x2="934.3" y2="887" class="st"/>
<rect x="877.8" y="812" width="74.4" height="61.8" class="bx"/>
<line x1="877.8" y1="826.4" x2="952.2" y2="826.4" class="md"/>
<circle cx="915" cy="740.8" r="4" class="pt"/>
<circle cx="915" cy="812" r="4" class="pt"/>
<circle cx="915" cy="820" r="4" class="pt"/>
<circle cx="915" cy="833.8" r="4" class="pt"/>
<circle cx="915" cy="873.8" r="4" class="pt"/>
<circle cx="915" cy="887.4" r="4" class="pt"/>
<rect x="767.4" y="735" width="202" height="157.6" class="fr"/>
</g>
<g>
<text transform="translate(1202.3 721) scale(0.97 1)" font-size="22.6" font-weight="bold" text-anchor="middle">EVA1A</text>
<text transform="translate(1031.9 814.1) rotate(-90) scale(0.975 1)" font-size="19.3" text-anchor="middle" class="lb">counts</text>
<line x1="1089.6" y1="735.8" x2="1101.8" y2="735.8" class="ax"/>
<text transform="translate(1079.6 741.15) scale(0.965 1)" font-size="15.2" text-anchor="end" class="tk">2000</text>
<line x1="1089.6" y1="778.4" x2="1101.8" y2="778.4" class="ax"/>
<text transform="translate(1079.6 783.75) scale(0.965 1)" font-size="15.2" text-anchor="end" class="tk">1500</text>
<line x1="1089.6" y1="821.4" x2="1101.8" y2="821.4" class="ax"/>
<text transform="translate(1079.6 826.75) scale(0.965 1)" font-size="15.2" text-anchor="end" class="tk">1000</text>
<line x1="1089.6" y1="864" x2="1101.8" y2="864" class="ax"/>
<text transform="translate(1079.6 869.35) scale(0.965 1)" font-size="15.2" text-anchor="end" class="tk">500</text>
<line x1="1156" y1="892.6" x2="1156" y2="904.2" class="ax"/>
<text transform="translate(1161.5 915.2) rotate(-90) scale(0.965 1)" font-size="15.2" text-anchor="end" class="tk">healthy</text>
<line x1="1249.4" y1="892.6" x2="1249.4" y2="904.2" class="ax"/>
<text transform="translate(1254.9 914.2) rotate(-90) scale(0.965 1)" font-size="15.2" text-anchor="end" class="tk">T2DM</text>
<line x1="1156" y1="829.4" x2="1156" y2="839.4" class="wh"/>
<line x1="1136.7" y1="829.4" x2="1175.3" y2="829.4" class="st"/>
<line x1="1156" y1="887" x2="1156" y2="878.4" class="wh"/>
<line x1="1136.7" y1="887" x2="1175.3" y2="887" class="st"/>
<rect x="1118.8" y="839.4" width="74.4" height="39" class="bx"/>
<line x1="1118.8" y1="853.4" x2="1193.2" y2="853.4" class="md"/>
<circle cx="1156" cy="829" r="4" class="pt"/>
<circle cx="1156" cy="839.4" r="4" class="pt"/>
<circle cx="1156" cy="849" r="4" class="pt"/>
<circle cx="1156" cy="858.4" r="4" class="pt"/>
<circle cx="1156" cy="877.4" r="4" class="pt"/>
<circle cx="1156" cy="887.4" r="4" class="pt"/>
<line x1="1249.4" y1="740.8" x2="1249.4" y2="768" class="wh"/>
<line x1="1230.1" y1="740.8" x2="1268.7" y2="740.8" class="st"/>
<line x1="1249.4" y1="847" x2="1249.4" y2="836" class="wh"/>
<line x1="1230.1" y1="847" x2="1268.7" y2="847" class="st"/>
<rect x="1212.2" y="768" width="74.4" height="68" class="bx"/>
<line x1="1212.2" y1="791" x2="1286.6" y2="791" class="md"/>
<circle cx="1249.4" cy="740.8" r="4" class="pt"/>
<circle cx="1249.4" cy="768.4" r="4" class="pt"/>
<circle cx="1249.4" cy="836" r="4" class="pt"/>
<circle cx="1249.4" cy="847.4" r="4" class="pt"/>
<circle cx="1249.4" cy="791" r="3.7" class="dk"/>
<rect x="1101.8" y="735" width="202" height="157.6" class="fr"/>
</g>
<g>
<text transform="translate(1536.7 721) scale(0.97 1)" font-size="22.6" font-weight="bold" text-anchor="middle">OPTN</text>
<text transform="translate(1366.3 814.1) rotate(-90) scale(0.975 1)" font-size="19.3" text-anchor="middle" class="lb">counts</text>
<line x1="1424" y1="740" x2="1436.2" y2="740" class="ax"/>
<text transform="translate(1414 745.35) scale(0.965 1)" font-size="15.2" text-anchor="end" class="tk">16000</text>
<line x1="1424" y1="771.4" x2="1436.2" y2="771.4" class="ax"/>
<text transform="translate(1414 776.75) scale(0.965 1)" font-size="15.2" text-anchor="end" class="tk">14000</text>
<line x1="1424" y1="802.8" x2="1436.2" y2="802.8" class="ax"/>
<text transform="translate(1414 808.15) scale(0.965 1)" font-size="15.2" text-anchor="end" class="tk">12000</text>
<line x1="1424" y1="834.4" x2="1436.2" y2="834.4" class="ax"/>
<text transform="translate(1414 839.75) scale(0.965 1)" font-size="15.2" text-anchor="end" class="tk">10000</text>
<line x1="1424" y1="866" x2="1436.2" y2="866" class="ax"/>
<text transform="translate(1414 871.35) scale(0.965 1)" font-size="15.2" text-anchor="end" class="tk">8000</text>
<line x1="1490.4" y1="892.6" x2="1490.4" y2="904.2" class="ax"/>
<text transform="translate(1495.9 915.2) rotate(-90) scale(0.965 1)" font-size="15.2" text-anchor="end" class="tk">healthy</text>
<line x1="1583.8" y1="892.6" x2="1583.8" y2="904.2" class="ax"/>
<text transform="translate(1589.3 914.2) rotate(-90) scale(0.965 1)" font-size="15.2" text-anchor="end" class="tk">T2DM</text>
<line x1="1490.4" y1="756.8" x2="1490.4" y2="827.8" class="wh"/>
<line x1="1471.1" y1="756.8" x2="1509.7" y2="756.8" class="st"/>
<line x1="1490.4" y1="887" x2="1490.4" y2="879.4" class="wh"/>
<line x1="1471.1" y1="887" x2="1509.7" y2="887" class="st"/>
<rect x="1453.2" y="827.8" width="74.4" height="51.6" class="bx"/>
<line x1="1453.2" y1="853" x2="1527.6" y2="853" class="md"/>
<circle cx="1490.4" cy="756.4" r="4" class="pt"/>
<circle cx="1490.4" cy="827.4" r="4" class="pt"/>
<circle cx="1490.4" cy="832.8" r="4" class="pt"/>
<circle cx="1490.4" cy="873.8" r="4" class="pt"/>
<circle cx="1490.4" cy="879.4" r="4" class="pt"/>
<circle cx="1490.4" cy="885.4" r="4" class="pt"/>
<circle cx="1490.4" cy="888.4" r="4" class="pt"/>
<line x1="1583.8" y1="740.8" x2="1583.8" y2="775" class="wh"/>
<line x1="1564.5" y1="740.8" x2="1603.1" y2="740.8" class="st"/>
<line x1="1583.8" y1="869.8" x2="1583.8" y2="818.4" class="wh"/>
<line x1="1564.5" y1="869.8" x2="1603.1" y2="869.8" class="st"/>
<rect x="1546.6" y="775" width="74.4" height="43.4" class="bx"/>
<line x1="1546.6" y1="782" x2="1621" y2="782" class="md"/>
<circle cx="1583.8" cy="740.8" r="4" class="pt"/>
<circle cx="1583.8" cy="774.4" r="4" class="pt"/>
<circle cx="1583.8" cy="778.4" r="4" class="pt"/>
<circle cx="1583.8" cy="785.4" r="4" class="pt"/>
<circle cx="1583.8" cy="818.4" r="4" class="pt"/>
<circle cx="1583.8" cy="869.8" r="4" class="pt"/>
<rect x="1436.2" y="735" width="202" height="157.6" class="fr"/>
</g>
<g>
<text x="215.8" y="1062.7" font-size="23.8" font-weight="bold">Time effect P= 0.0001</text>
<text x="215.8" y="1090.2" font-size="23.8" font-weight="bold">Diabetes effect P= 0.1060</text>
<text x="215.8" y="1117.7" font-size="23.8" font-weight="bold">Interaction effect P=0.0017</text>
<text transform="translate(168.8 1299) rotate(-90)" font-size="24.0" font-weight="bold" text-anchor="middle"><tspan font-style="italic">DRAM1</tspan> mRNA/ control</text>
<line x1="230.4" y1="1387.8" x2="230.4" y2="1380.3" class="er"/>
<line x1="226.5" y1="1380.3" x2="234.3" y2="1380.3" class="ec"/>
<rect x="224.3" y="1386.8" width="12.2" height="58.2" class="bw"/>
<line x1="253" y1="1397.5" x2="253" y2="1385.1" class="er"/>
<line x1="249.1" y1="1385.1" x2="256.9" y2="1385.1" class="ec"/>
<rect x="245.7" y="1396.2" width="14.6" height="48.8" class="bb"/>
<line x1="289.72" y1="1370.3" x2="289.72" y2="1355.2" class="er"/>
<line x1="285.82" y1="1355.2" x2="293.62" y2="1355.2" class="ec"/>
<rect x="283.62" y="1369.3" width="12.2" height="75.7" class="bw"/>
<line x1="312.32" y1="1382.7" x2="312.32" y2="1370.6" class="er"/>
<line x1="308.42" y1="1370.6" x2="316.22" y2="1370.6" class="ec"/>
<rect x="305.02" y="1381.4" width="14.6" height="63.6" class="bb"/>
<line x1="349.04" y1="1336" x2="349.04" y2="1315.7" class="er"/>
<line x1="345.14" y1="1315.7" x2="352.94" y2="1315.7" class="ec"/>
<rect x="342.94" y="1335" width="12.2" height="110" class="bw"/>
<line x1="371.64" y1="1306.7" x2="371.64" y2="1281.7" class="er"/>
<line x1="367.74" y1="1281.7" x2="375.54" y2="1281.7" class="ec"/>
<rect x="364.34" y="1305.4" width="14.6" height="139.6" class="bb"/>
<line x1="408.36" y1="1387" x2="408.36" y2="1374.3" class="er"/>
<line x1="404.46" y1="1374.3" x2="412.26" y2="1374.3" class="ec"/>
<rect x="402.26" y="1386" width="12.2" height="59" class="bw"/>
<line x1="430.96" y1="1318.3" x2="430.96" y2="1276" class="er"/>
<line x1="427.06" y1="1276" x2="434.86" y2="1276" class="ec"/>
<rect x="423.66" y="1317" width="14.6" height="128" class="bb"/>
<line x1="467.68" y1="1370.3" x2="467.68" y2="1359" class="er"/>
<line x1="463.78" y1="1359" x2="471.58" y2="1359" class="ec"/>
<rect x="461.58" y="1369.3" width="12.2" height="75.7" class="bw"/>
<line x1="490.28" y1="1229.3" x2="490.28" y2="1170.8" class="er"/>
<line x1="486.38" y1="1170.8" x2="494.18" y2="1170.8" class="ec"/>
<rect x="482.98" y="1228" width="14.6" height="217" class="bb"/>
<line x1="216" y1="1153.7" x2="216" y2="1446.3" class="ba"/>
<line x1="207.6" y1="1445" x2="506.78" y2="1445" class="ba"/>
<line x1="207.6" y1="1155" x2="216" y2="1155" class="ba"/>
<text x="203" y="1162.2" font-size="20.7" font-weight="bold" text-anchor="end">5</text>
<line x1="207.6" y1="1213" x2="216" y2="1213" class="ba"/>
<text x="203" y="1220.2" font-size="20.7" font-weight="bold" text-anchor="end">4</text>
<line x1="207.6" y1="1271" x2="216" y2="1271" class="ba"/>
<text x="203" y="1278.2" font-size="20.7" font-weight="bold" text-anchor="end">3</text>
<line x1="207.6" y1="1329" x2="216" y2="1329" class="ba"/>
<text x="203" y="1336.2" font-size="20.7" font-weight="bold" text-anchor="end">2</text>
<line x1="207.6" y1="1387" x2="216" y2="1387" class="ba"/>
<text x="203" y="1394.2" font-size="20.7" font-weight="bold" text-anchor="end">1</text>
<line x1="207.6" y1="1445" x2="216" y2="1445" class="ba"/>
<text x="203" y="1452.2" font-size="20.7" font-weight="bold" text-anchor="end">0</text>
<line x1="241.3" y1="1445" x2="241.3" y2="1453.2" class="ba"/>
<text transform="translate(247.9 1471.5) rotate(-45)" font-size="21.3" font-weight="bold" text-anchor="end">Prolif.</text>
<line x1="300.62" y1="1445" x2="300.62" y2="1453.2" class="ba"/>
<text transform="translate(307.22 1471.5) rotate(-45)" font-size="21.3" font-weight="bold" text-anchor="end">-2</text>
<line x1="359.94" y1="1445" x2="359.94" y2="1453.2" class="ba"/>
<text transform="translate(366.54 1471.5) rotate(-45)" font-size="21.3" font-weight="bold" text-anchor="end">0</text>
<line x1="419.26" y1="1445" x2="419.26" y2="1453.2" class="ba"/>
<text transform="translate(425.86 1471.5) rotate(-45)" font-size="21.3" font-weight="bold" text-anchor="end">2</text>
<line x1="478.58" y1="1445" x2="478.58" y2="1453.2" class="ba"/>
<text transform="translate(485.18 1471.5) rotate(-45)" font-size="21.3" font-weight="bold" text-anchor="end">5</text>
<text x="356.7" y="1546.8" font-size="23.6" font-weight="bold" text-anchor="middle">Day of differentiation</text>
<path d="M467.3 1165.7 V1154.1 H488.9 V1165.7" class="sg"/>
<text x="470.6" y="1158.7" font-size="31" text-anchor="middle" class="star">*</text>
<text x="485.25" y="1158.7" font-size="31" text-anchor="middle" class="star">*</text>
<rect x="244.4" y="1155.1" width="27.8" height="11.8" class="bw"/>
<text x="291.6" y="1168.6" font-size="23">Healthy</text>
<rect x="243.2" y="1182" width="30.2" height="13.8" class="bb"/>
<text x="291.6" y="1196.8" font-size="23">T2DM</text>
</g>
<g>
<text x="692.8" y="1062.7" font-size="23.8" font-weight="bold">Time effect P&lt; 0.0001</text>
<text x="692.8" y="1090.2" font-size="23.8" font-weight="bold">Diabetes effect P= 0.3520</text>
<text x="692.8" y="1117.7" font-size="23.8" font-weight="bold">Interaction effect P=0.3924</text>
<text transform="translate(647 1300) rotate(-90)" font-size="24.0" font-weight="bold" text-anchor="middle"><tspan font-style="italic">TP53INP1</tspan> mRNA/control</text>
<line x1="708.7" y1="1387.8" x2="708.7" y2="1380.5" class="er"/>
<line x1="704.8" y1="1380.5" x2="712.6" y2="1380.5" class="ec"/>
<rect x="702.6" y="1386.8" width="12.2" height="58.2" class="bw"/>
<line x1="731.3" y1="1406.6" x2="731.3" y2="1396.1" class="er"/>
<line x1="727.4" y1="1396.1" x2="735.2" y2="1396.1" class="ec"/>
<rect x="724" y="1405.3" width="14.6" height="39.7" class="bb"/>
<line x1="768.02" y1="1356.2" x2="768.02" y2="1345.7" class="er"/>
<line x1="764.12" y1="1345.7" x2="771.92" y2="1345.7" class="ec"/>
<rect x="761.92" y="1355.2" width="12.2" height="89.8" class="bw"/>
<line x1="790.62" y1="1390.8" x2="790.62" y2="1375.9" class="er"/>
<line x1="786.72" y1="1375.9" x2="794.52" y2="1375.9" class="ec"/>
<rect x="783.32" y="1389.5" width="14.6" height="55.5" class="bb"/>
<line x1="827.34" y1="1257.7" x2="827.34" y2="1232.3" class="er"/>
<line x1="823.44" y1="1232.3" x2="831.24" y2="1232.3" class="ec"/>
<rect x="821.24" y="1256.7" width="12.2" height="188.3" class="bw"/>
<line x1="849.94" y1="1327.7" x2="849.94" y2="1307.7" class="er"/>
<line x1="846.04" y1="1307.7" x2="853.84" y2="1307.7" class="ec"/>
<rect x="842.64" y="1326.4" width="14.6" height="118.6" class="bb"/>
<line x1="886.66" y1="1320.3" x2="886.66" y2="1307.3" class="er"/>
<line x1="882.76" y1="1307.3" x2="890.56" y2="1307.3" class="ec"/>
<rect x="880.56" y="1319.3" width="12.2" height="125.7" class="bw"/>
<line x1="909.26" y1="1316" x2="909.26" y2="1297.7" class="er"/>
<line x1="905.36" y1="1297.7" x2="913.16" y2="1297.7" class="ec"/>
<rect x="901.96" y="1314.7" width="14.6" height="130.3" class="bb"/>
<line x1="945.98" y1="1238.3" x2="945.98" y2="1197.7" class="er"/>
<line x1="942.08" y1="1197.7" x2="949.88" y2="1197.7" class="ec"/>
<rect x="939.88" y="1237.3" width="12.2" height="207.7" class="bw"/>
<line x1="968.58" y1="1226" x2="968.58" y2="1184.3" class="er"/>
<line x1="964.68" y1="1184.3" x2="972.48" y2="1184.3" class="ec"/>
<rect x="961.28" y="1224.7" width="14.6" height="220.3" class="bb"/>
<line x1="694" y1="1153.7" x2="694" y2="1446.3" class="ba"/>
<line x1="685.6" y1="1445" x2="985.08" y2="1445" class="ba"/>
<line x1="685.6" y1="1155" x2="694" y2="1155" class="ba"/>
<text x="681" y="1162.2" font-size="20.7" font-weight="bold" text-anchor="end">5</text>
<line x1="685.6" y1="1213" x2="694" y2="1213" class="ba"/>
<text x="681" y="1220.2" font-size="20.7" font-weight="bold" text-anchor="end">4</text>
<line x1="685.6" y1="1271" x2="694" y2="1271" class="ba"/>
<text x="681" y="1278.2" font-size="20.7" font-weight="bold" text-anchor="end">3</text>
<line x1="685.6" y1="1329" x2="694" y2="1329" class="ba"/>
<text x="681" y="1336.2" font-size="20.7" font-weight="bold" text-anchor="end">2</text>
<line x1="685.6" y1="1387" x2="694" y2="1387" class="ba"/>
<text x="681" y="1394.2" font-size="20.7" font-weight="bold" text-anchor="end">1</text>
<line x1="685.6" y1="1445" x2="694" y2="1445" class="ba"/>
<text x="681" y="1452.2" font-size="20.7" font-weight="bold" text-anchor="end">0</text>
<line x1="719.6" y1="1445" x2="719.6" y2="1453.2" class="ba"/>
<text transform="translate(726.2 1471.5) rotate(-45)" font-size="21.3" font-weight="bold" text-anchor="end">Prolif.</text>
<line x1="778.92" y1="1445" x2="778.92" y2="1453.2" class="ba"/>
<text transform="translate(785.52 1471.5) rotate(-45)" font-size="21.3" font-weight="bold" text-anchor="end">-2</text>
<line x1="838.24" y1="1445" x2="838.24" y2="1453.2" class="ba"/>
<text transform="translate(844.84 1471.5) rotate(-45)" font-size="21.3" font-weight="bold" text-anchor="end">0</text>
<line x1="897.56" y1="1445" x2="897.56" y2="1453.2" class="ba"/>
<text transform="translate(904.16 1471.5) rotate(-45)" font-size="21.3" font-weight="bold" text-anchor="end">2</text>
<line x1="956.88" y1="1445" x2="956.88" y2="1453.2" class="ba"/>
<text transform="translate(963.48 1471.5) rotate(-45)" font-size="21.3" font-weight="bold" text-anchor="end">5</text>
<text x="836.5" y="1546.8" font-size="23.6" font-weight="bold" text-anchor="middle">Day of differentiation</text>
<path d="M827.2 1223 V1211.4 H848.8 V1223" class="sg"/>
<text x="838.75" y="1212" font-size="31" text-anchor="middle" class="star">*</text>
</g>
<g>
<text x="1202.4" y="1062.7" font-size="23.8" font-weight="bold">Time effect P&lt; 0.0001</text>
<text x="1202.4" y="1090.2" font-size="23.8" font-weight="bold">Diabetes effect P= 0.0168</text>
<text x="1202.4" y="1117.7" font-size="23.8" font-weight="bold">Interaction effect P=0.0785</text>
<text transform="translate(1133.8 1298) rotate(-90)" font-size="24.0" font-weight="bold" text-anchor="middle"><tspan font-style="italic">VAMP8</tspan> mRNA/ control</text>
<line x1="1214.3" y1="1244.3" x2="1214.3" y2="1220" class="er"/>
<line x1="1210.4" y1="1220" x2="1218.2" y2="1220" class="ec"/>
<rect x="1208.2" y="1243.3" width="12.2" height="201.7" class="bw"/>
<line x1="1236.9" y1="1335.3" x2="1236.9" y2="1308.3" class="er"/>
<line x1="1233" y1="1308.3" x2="1240.8" y2="1308.3" class="ec"/>
<rect x="1229.6" y="1334" width="14.6" height="111" class="bb"/>
<line x1="1273.62" y1="1275" x2="1273.62" y2="1246" class="er"/>
<line x1="1269.72" y1="1246" x2="1277.52" y2="1246" class="ec"/>
<rect x="1267.52" y="1274" width="12.2" height="171" class="bw"/>
<line x1="1296.22" y1="1343.3" x2="1296.22" y2="1317.7" class="er"/>
<line x1="1292.32" y1="1317.7" x2="1300.12" y2="1317.7" class="ec"/>
<rect x="1288.92" y="1342" width="14.6" height="103" class="bb"/>
<line x1="1332.94" y1="1300" x2="1332.94" y2="1277.7" class="er"/>
<line x1="1329.04" y1="1277.7" x2="1336.84" y2="1277.7" class="ec"/>
<rect x="1326.84" y="1299" width="12.2" height="146" class="bw"/>
<line x1="1355.54" y1="1369.3" x2="1355.54" y2="1348.3" class="er"/>
<line x1="1351.64" y1="1348.3" x2="1359.44" y2="1348.3" class="ec"/>
<rect x="1348.24" y="1368" width="14.6" height="77" class="bb"/>
<line x1="1392.26" y1="1350" x2="1392.26" y2="1337.7" class="er"/>
<line x1="1388.36" y1="1337.7" x2="1396.16" y2="1337.7" class="ec"/>
<rect x="1386.16" y="1349" width="12.2" height="96" class="bw"/>
<line x1="1414.86" y1="1383.3" x2="1414.86" y2="1369.3" class="er"/>
<line x1="1410.96" y1="1369.3" x2="1418.76" y2="1369.3" class="ec"/>
<rect x="1407.56" y="1382" width="14.6" height="63" class="bb"/>
<line x1="1451.58" y1="1308.3" x2="1451.58" y2="1276.7" class="er"/>
<line x1="1447.68" y1="1276.7" x2="1455.48" y2="1276.7" class="ec"/>
<rect x="1445.48" y="1307.3" width="12.2" height="137.7" class="bw"/>
<line x1="1474.18" y1="1375.3" x2="1474.18" y2="1354.3" class="er"/>
<line x1="1470.28" y1="1354.3" x2="1478.08" y2="1354.3" class="ec"/>
<rect x="1466.88" y="1374" width="14.6" height="71" class="bb"/>
<line x1="1199.4" y1="1153.7" x2="1199.4" y2="1446.3" class="ba"/>
<line x1="1191" y1="1445" x2="1490.68" y2="1445" class="ba"/>
<line x1="1191" y1="1155" x2="1199.4" y2="1155" class="ba"/>
<text x="1186.4" y="1162.2" font-size="20.7" font-weight="bold" text-anchor="end">1.5</text>
<line x1="1191" y1="1251.7" x2="1199.4" y2="1251.7" class="ba"/>
<text x="1186.4" y="1258.9" font-size="20.7" font-weight="bold" text-anchor="end">1.0</text>
<line x1="1191" y1="1348.3" x2="1199.4" y2="1348.3" class="ba"/>
<text x="1186.4" y="1355.5" font-size="20.7" font-weight="bold" text-anchor="end">0.5</text>
<line x1="1191" y1="1445" x2="1199.4" y2="1445" class="ba"/>
<text x="1186.4" y="1452.2" font-size="20.7" font-weight="bold" text-anchor="end">0.0</text>
<line x1="1225.2" y1="1445" x2="1225.2" y2="1453.2" class="ba"/>
<text transform="translate(1231.8 1471.5) rotate(-45)" font-size="21.3" font-weight="bold" text-anchor="end">Prolif.</text>
<line x1="1284.52" y1="1445" x2="1284.52" y2="1453.2" class="ba"/>
<text transform="translate(1291.12 1471.5) rotate(-45)" font-size="21.3" font-weight="bold" text-anchor="end">-2</text>
<line x1="1343.84" y1="1445" x2="1343.84" y2="1453.2" class="ba"/>
<text transform="translate(1350.44 1471.5) rotate(-45)" font-size="21.3" font-weight="bold" text-anchor="end">0</text>
<line x1="1403.16" y1="1445" x2="1403.16" y2="1453.2" class="ba"/>
<text transform="translate(1409.76 1471.5) rotate(-45)" font-size="21.3" font-weight="bold" text-anchor="end">2</text>
<line x1="1462.48" y1="1445" x2="1462.48" y2="1453.2" class="ba"/>
<text transform="translate(1469.08 1471.5) rotate(-45)" font-size="21.3" font-weight="bold" text-anchor="end">5</text>
<text x="1341" y="1546.8" font-size="23.6" font-weight="bold" text-anchor="middle">Day of differentiation</text>
<path d="M1213.1 1214.9 V1203.3 H1236 V1214.9" class="sg"/>
<text x="1225" y="1206.9" font-size="31" text-anchor="middle" class="star">*</text>
<path d="M1334 1270.7 V1259.1 H1356.7 V1270.7" class="sg"/>
<text x="1343.9" y="1263.3" font-size="31" text-anchor="middle" class="star">*</text>
<path d="M1452.2 1269.6 V1258 H1474.9 V1269.6" class="sg"/>
<text x="1463.7" y="1263.1" font-size="31" text-anchor="middle" class="star">*</text>
</g>
</g>
</svg>
</body>
</html>
